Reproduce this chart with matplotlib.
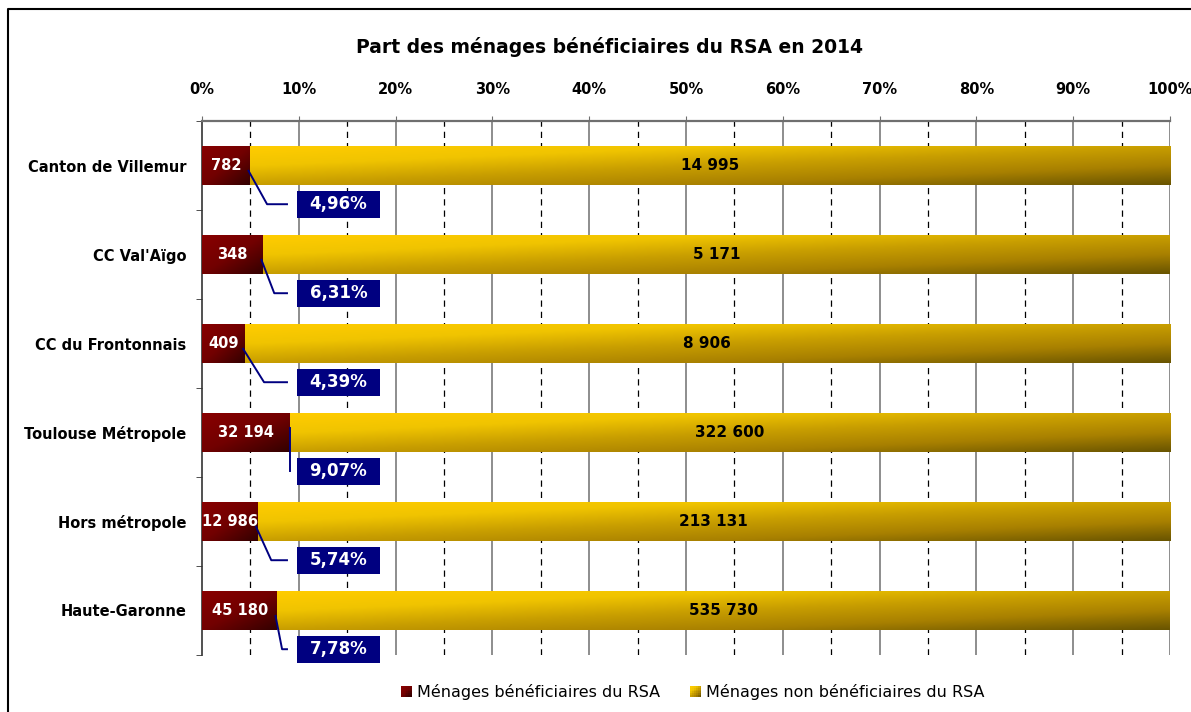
import numpy as np
import matplotlib
matplotlib.use("Agg")
import matplotlib.pyplot as plt
from matplotlib.colors import LinearSegmentedColormap
from matplotlib.lines import Line2D
from matplotlib.patches import Rectangle
from matplotlib.legend_handler import HandlerBase

plt.rcParams['font.family'] = ['DejaVu Sans']

categories = ["Canton de Villemur", "CC Val'Aïgo", "CC du Frontonnais",
              "Toulouse Métropole", "Hors métropole", "Haute-Garonne"]
beneficiaires = [782, 348, 409, 32194, 12986, 45180]
non_beneficiaires = [14995, 5171, 8906, 322600, 213131, 535730]
beneficiaires_labels = ["782", "348", "409", "32 194", "12 986", "45 180"]
non_beneficiaires_labels = ["14 995", "5 171", "8 906", "322 600", "213 131", "535 730"]
part_labels = ["4,96%", "6,31%", "4,39%", "9,07%", "5,74%", "7,78%"]
xtick_values = list(range(0, 101, 10))
xtick_labels = [f"{v}%" for v in xtick_values]
title = "Part des ménages bénéficiaires du RSA en 2014"
legend_labels = ["Ménages bénéficiaires du RSA", "Ménages non bénéficiaires du RSA"]

W, H = 1191, 712
fig = plt.figure(figsize=(W / 100, H / 100), dpi=100)
ax = fig.add_axes([202 / W, 1 - 655 / H, 968 / W, 534 / H])

red_cmap = LinearSegmentedColormap.from_list(
    "red", [(0, "#880000"), (0.5, "#720000"), (1, "#330000")])
gold_cmap = LinearSegmentedColormap.from_list(
    "gold", [(0, "#ffcc00"), (0.25, "#f0c400"), (0.5, "#c89e00"),
             (0.75, "#a88000"), (1, "#6a5500")])


def grad_bar(ax, x0, x1, yc, h, cmap, diag=0.5):
    nx, ny = 96, 32
    gx = np.linspace(0, 1, nx)[None, :]
    gy = np.linspace(0, 1, ny)[:, None]
    g = (gy * (1 - diag) + gx * diag)
    ax.imshow(g, cmap=cmap, extent=(x0, x1, yc + h / 2, yc - h / 2),
              origin="upper", aspect="auto", zorder=3, interpolation="bilinear",
              vmin=0, vmax=1)


bar_h = 0.43
n = len(categories)
ys = np.arange(n) + 0.5
for i in range(n):
    tot = beneficiaires[i] + non_beneficiaires[i]
    p = beneficiaires[i] / tot * 100
    grad_bar(ax, 0, p, ys[i], bar_h, red_cmap, diag=0.5)
    grad_bar(ax, p, 100, ys[i], bar_h, gold_cmap, diag=0.5)
    ax.text(p / 2, ys[i], beneficiaires_labels[i], ha="center", va="center",
            color="white", fontsize=10.5, fontweight="bold", zorder=5)
    ax.text((p + 100) / 2, ys[i], non_beneficiaires_labels[i], ha="center", va="center",
            color="black", fontsize=11, fontweight="bold", zorder=5)
    # label box
    box_x0, box_x1 = 9.8, 18.4
    by = ys[i] + 0.435
    ax.add_patch(Rectangle((box_x0, by - 0.15), box_x1 - box_x0, 0.30,
                           facecolor="#000080", edgecolor="none", zorder=6, clip_on=False))
    ax.text((box_x0 + box_x1) / 2, by, part_labels[i], ha="center", va="center",
            color="white", fontsize=12, fontweight="bold", zorder=7, clip_on=False)
    end_x = 8.88
    if p < end_x:
        bend = p + (end_x - p) * 0.45
        ax.plot([p - 0.2, bend, end_x], [ys[i] + 0.05, by, by], color="#000080",
                lw=1.4, zorder=6, solid_capstyle="butt", clip_on=False)
    else:
        ax.plot([p, p], [ys[i] - 0.05, by], color="#000080", lw=1.4, zorder=6,
                clip_on=False)

ax.set_xlim(0, 100)
ax.set_ylim(n, 0)

# grid
for v in range(10, 101, 10):
    ax.axvline(v, color="#6f6f6f", lw=1.1, zorder=1)
for v in range(5, 100, 10):
    ax.axvline(v, color="black", lw=0.9, ls=(0, (5, 4)), zorder=1)

ax.xaxis.tick_top()
ax.set_xticks(xtick_values)
ax.set_xticklabels(xtick_labels, fontsize=10.5, fontweight="bold")
ax.tick_params(axis="x", direction="out", length=3.6, color="#6f6f6f", pad=14)
ax.set_yticks(ys)
ax.set_yticklabels(categories, fontsize=10.5, fontweight="bold")
ax.tick_params(axis="y", which="major", length=0, pad=11)
ax.set_yticks(np.arange(n + 1), minor=True)
ax.tick_params(axis="y", which="minor", length=4, direction="out", color="#333333")

for s in ["bottom", "right"]:
    ax.spines[s].set_visible(False)
ax.spines["top"].set_color("#6f6f6f")
ax.spines["top"].set_linewidth(1.6)
ax.spines["left"].set_color("#333333")
ax.spines["left"].set_linewidth(1.2)

fig.text(610 / W, 1 - 47 / H, title, ha="center", va="center",
         fontsize=13.5, fontweight="bold")

# frame
fig.add_artist(Line2D([8 / W, 8 / W, 1.0], [0, 1 - 9 / H, 1 - 9 / H],
                      transform=fig.transFigure, color="black", lw=1.5))


class GradHandler(HandlerBase):
    def __init__(self, cmap):
        super().__init__()
        self.cmap = cmap

    def create_artists(self, legend, orig_handle, xdescent, ydescent, width, height, fontsize, trans):
        arts = []
        s = height
        x0 = xdescent + width - s
        k = 6
        for j in range(k):
            for m in range(k):
                arts.append(Rectangle((x0 + j * s / k, -ydescent + (k - 1 - m) * s / k), s / k, s / k,
                                      facecolor=self.cmap((j + m) / (2 * k - 2)),
                                      edgecolor="none", transform=trans))
        return arts


h1 = Rectangle((0, 0), 1, 1)
h2 = Rectangle((0, 0), 1, 1)
fig.legend([h1, h2], legend_labels, loc="center", bbox_to_anchor=(692 / W, 1 - 692 / H),
           ncol=2, frameon=False, fontsize=11.5, handlelength=0.8, handletextpad=0.3,
           columnspacing=1.8,
           handler_map={h1: GradHandler(red_cmap), h2: GradHandler(gold_cmap)})

fig.savefig("out.png", dpi=100)
